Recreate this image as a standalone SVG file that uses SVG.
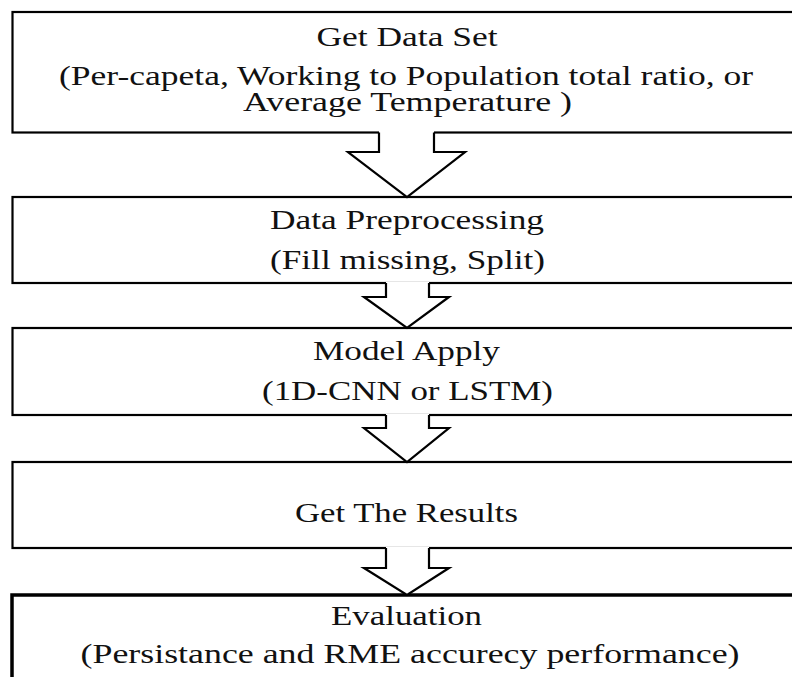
<svg xmlns="http://www.w3.org/2000/svg" width="792" height="677" viewBox="0 0 792 677">
<style>
.box{fill:#fff;stroke:#000;stroke-width:2.2}
.box5{fill:#fff;stroke:#000;stroke-width:3.5}
.t{font-family:"Liberation Serif","Times New Roman",serif;font-size:28px;fill:#111;text-anchor:middle}
.af{fill:#fff;stroke:none}
.as{fill:none;stroke:#000;stroke-width:2.2;stroke-linejoin:miter}
</style>
<rect width="792" height="677" fill="#fff"/>
<g id="n1">
<rect class="box" x="12.5" y="12" width="800" height="120.5"/>
<text class="t" x="407" y="46" textLength="181" lengthAdjust="spacingAndGlyphs">Get Data Set</text>
<text class="t" x="406" y="85" textLength="694" lengthAdjust="spacingAndGlyphs">(Per-capeta, Working to Population total ratio, or</text>
<text class="t" x="407.5" y="111" textLength="329" lengthAdjust="spacingAndGlyphs">Average Temperature )</text>
</g>
<g id="n2">
<rect class="box" x="12.5" y="197" width="800" height="86"/>
<text class="t" x="407" y="229" textLength="274" lengthAdjust="spacingAndGlyphs">Data Preprocessing</text>
<text class="t" x="407.5" y="269" textLength="275" lengthAdjust="spacingAndGlyphs">(Fill missing, Split)</text>
</g>
<g id="n3">
<rect class="box" x="12.5" y="328" width="800" height="87"/>
<text class="t" x="406.5" y="360" textLength="187" lengthAdjust="spacingAndGlyphs">Model Apply</text>
<text class="t" x="407.5" y="400" textLength="291" lengthAdjust="spacingAndGlyphs">(1D-CNN or LSTM)</text>
</g>
<g id="n4">
<rect class="box" x="12.5" y="462" width="800" height="86"/>
<text class="t" x="406.5" y="522" textLength="223" lengthAdjust="spacingAndGlyphs">Get The Results</text>
</g>
<g id="n5">
<rect class="box5" x="12" y="595" width="800" height="100"/>
<text class="t" x="406.5" y="625" textLength="151" lengthAdjust="spacingAndGlyphs">Evaluation</text>
<text class="t" x="410" y="663" textLength="659" lengthAdjust="spacingAndGlyphs">(Persistance and RME accurecy performance)</text>
</g>
<g id="connectors">
<polygon class="af" points="379,131 434,131 434,152 465,152 407,197 348,152 379,152"/>
<polyline class="as" points="379,132.5 379,152 348,152 407,197 465,152 434,152 434,132.5"/>
<polygon class="af" points="386,282 429,282 429,297 449,297 407,328 364,297 386,297"/>
<polyline class="as" points="386,283 386,297 364,297 407,328 449,297 429,297 429,283"/>
<polygon class="af" points="386,414 429,414 429,428 449,428 407,462 364,428 386,428"/>
<polyline class="as" points="386,415 386,428 364,428 407,462 449,428 429,428 429,415"/>
<polygon class="af" points="386,547 429,547 429,568 449,568 407,595 364,568 386,568"/>
<polyline class="as" points="386,548 386,568 364,568 407,595 449,568 429,568 429,548"/>
</g>
</svg>
